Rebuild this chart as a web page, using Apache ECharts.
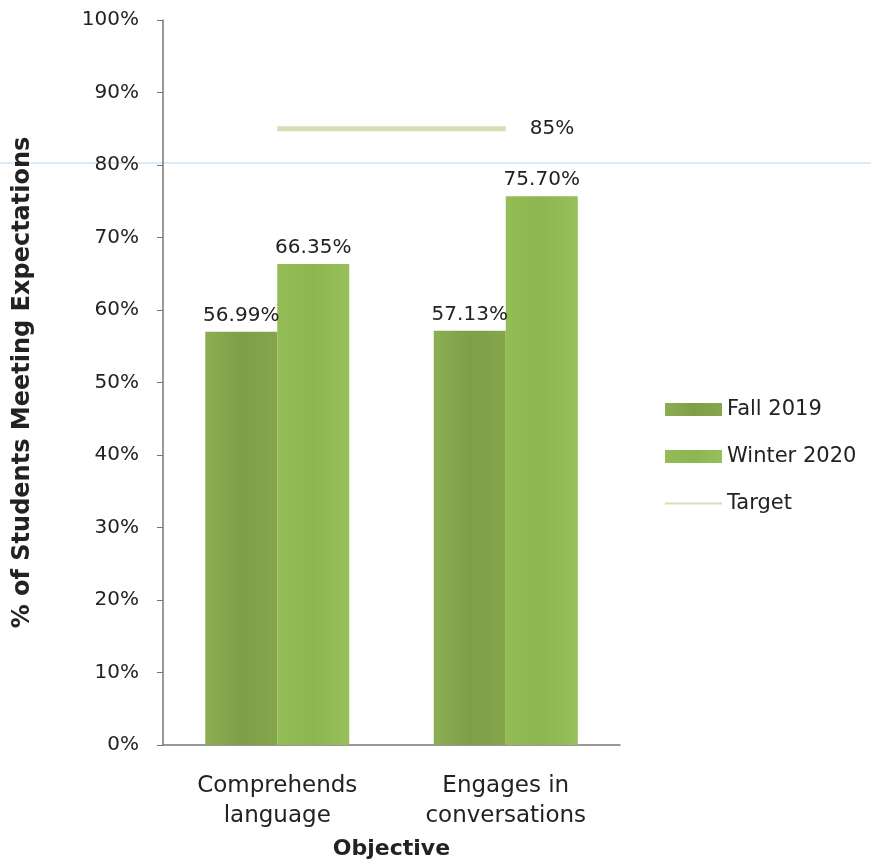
<!DOCTYPE html>
<html>
<head>
<meta charset="utf-8">
<script src="https://cdn.jsdelivr.net/npm/echarts@6/dist/echarts.min.js"></script>
<style>
  html, body { margin: 0; padding: 0; background: #fff; }
  #chart { width: 871px; height: 867px; }
</style>
</head>
<body>
<div id="chart"></div>
<script>
const categories = ["Comprehends\nlanguage", "Engages in\nconversations"];
const fall2019 = [56.99, 57.13];
const winter2020 = [66.35, 75.70];
const target = [85, 85];
const yTicks = [0, 10, 20, 30, 40, 50, 60, 70, 80, 90, 100];

const font = "DejaVu Sans";
const chart = echarts.init(document.getElementById("chart"));

const option = {
  backgroundColor: "#fff",
  animation: false,
  textStyle: { fontFamily: font },
  grid: { left: 163, right: 251, top: 20, bottom: 122, outerBoundsMode: "none", containLabel: false },
  legend: {
    orient: "vertical",
    left: 660,
    top: 394,
    itemWidth: 57,
    itemHeight: 13,
    itemGap: 26,
    icon: "rect",
    textStyle: { fontSize: 21, color: "#222", fontFamily: font },
    data: [
      { name: "Fall 2019", icon: "rect" },
      { name: "Winter 2020", icon: "rect" },
      { name: "Target", icon: "path://M0,5.5 L57,5.5 L57,7.5 L0,7.5 Z" },
    ],
  },
  xAxis: {
    type: "category",
    data: categories,
    name: "Objective",
    nameLocation: "middle",
    nameGap: 93,
    nameTextStyle: { fontSize: 22, fontWeight: "bold", color: "#222" },
    axisLine: { show: true, lineStyle: { color: "#777", width: 1.5 } },
    axisTick: { show: false },
    axisLabel: { fontSize: 23, color: "#222", lineHeight: 30, margin: 26 },
  },
  yAxis: {
    type: "value",
    min: yTicks[0],
    max: yTicks[yTicks.length - 1],
    interval: 10,
    name: "% of Students Meeting Expectations",
    nameLocation: "middle",
    nameGap: 128,
    nameTextStyle: { fontSize: 24, fontWeight: "bold", color: "#222" },
    axisLine: { show: true, lineStyle: { color: "#777", width: 1.5 } },
    axisTick: { show: true, length: 6, lineStyle: { color: "#777" } },
    axisLabel: { fontSize: 20, color: "#222", margin: 24, formatter: "{value}%" },
    splitLine: { show: false },
  },
  series: [
    {
      name: "Fall 2019",
      type: "bar",
      data: fall2019,
      barWidth: 72,
      barGap: "0%",
      itemStyle: {
        color: new echarts.graphic.LinearGradient(0, 0, 1, 0, [
          { offset: 0, color: "#8cae52" },
          { offset: 0.5, color: "#7e9e48" },
          { offset: 1, color: "#86a64c" },
        ]),
      },
      label: {
        show: true, position: "top", fontSize: 20, color: "#222", distance: 6,
        formatter: (p) => p.value.toFixed(2) + "%",
      },
    },
    {
      name: "Winter 2020",
      type: "bar",
      data: winter2020,
      barWidth: 72,
      itemStyle: {
        color: new echarts.graphic.LinearGradient(0, 0, 1, 0, [
          { offset: 0, color: "#95bd56" },
          { offset: 0.5, color: "#8db550" },
          { offset: 1, color: "#98c05a" },
        ]),
      },
      label: {
        show: true, position: "top", fontSize: 20, color: "#222", distance: 6,
        formatter: (p) => p.value.toFixed(2) + "%",
      },
    },
    {
      name: "Target",
      type: "line",
      data: target,
      symbol: "none",
      lineStyle: { color: "#d3dfb4", width: 5 },
      itemStyle: { color: "#d3dfb4" },
      endLabel: {
        show: true, distance: 24, fontSize: 20, color: "#222",
        formatter: (p) => p.value + "%",
      },
    },
  ],
  graphic: [
    {
      type: "line",
      shape: { x1: 0, y1: 163, x2: 871, y2: 163 },
      style: { stroke: "#bcd6ea", lineWidth: 1 },
      silent: true,
    },
  ],
};

chart.setOption(option);
</script>
</body>
</html>
